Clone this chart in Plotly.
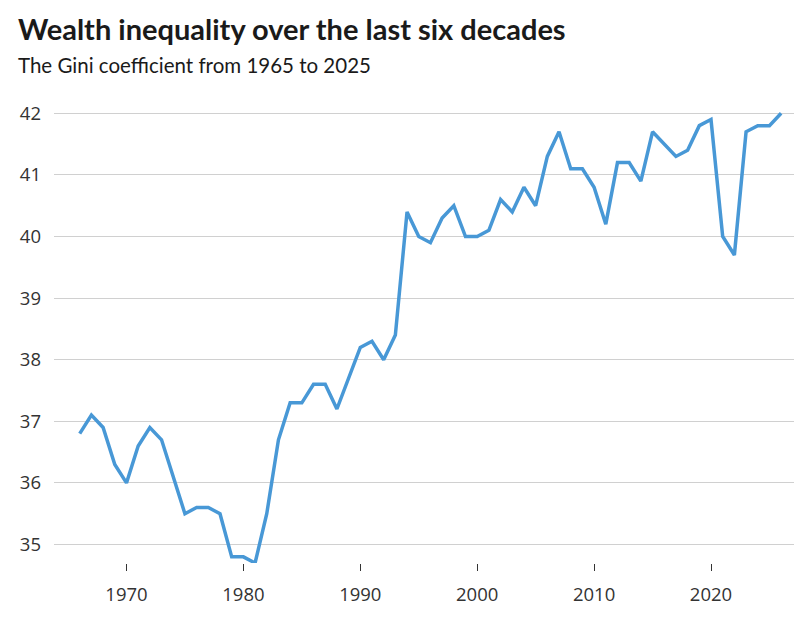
import plotly.graph_objects as go

years = list(range(1966, 2027))
gini = [
    36.8, 37.1, 36.9, 36.3, 36.0, 36.6, 36.9, 36.7, 36.1, 35.5,
    35.6, 35.6, 35.5, 34.8, 34.8, 34.7, 35.5, 36.7, 37.3, 37.3,
    37.6, 37.6, 37.2, 37.7, 38.2, 38.3, 38.0, 38.4, 40.4, 40.0,
    39.9, 40.3, 40.5, 40.0, 40.0, 40.1, 40.6, 40.4, 40.8, 40.5,
    41.3, 41.7, 41.1, 41.1, 40.8, 40.2, 41.2, 41.2, 40.9, 41.7,
    41.5, 41.3, 41.4, 41.8, 41.9, 40.0, 39.7, 41.7, 41.8, 41.8,
    42.0,
]
x_ticks = [1970, 1980, 1990, 2000, 2010, 2020]
y_ticks = [35, 36, 37, 38, 39, 40, 41, 42]

title_text = "Wealth inequality over the last six decades"
subtitle_text = "The Gini coefficient from 1965 to 2025"

TICK_FONT = "Open Sans, sans-serif"
TITLE_FONT = "Lato, sans-serif"
SUB_FONT = "Lato, sans-serif"

W, H = 799, 611
ML, MR, MT, MB = 37, 13, 93, 56
PW, PH = W - ML - MR, H - MT - MB

fig = go.Figure()
fig.add_trace(go.Scatter(
    x=years, y=gini, mode="lines",
    line=dict(color="#4898d6", width=3.5),
    hoverinfo="x+y", showlegend=False,
))

fig.update_layout(
    width=W, height=H,
    margin=dict(l=ML, r=MR, t=MT, b=MB),
    paper_bgcolor="white", plot_bgcolor="white",
    font=dict(family=TICK_FONT, color="#333333", size=18),
    xaxis=dict(
        range=[1963.8, 2027.1],
        tickvals=x_ticks, ticktext=[str(v) for v in x_ticks],
        showgrid=False, zeroline=False, showline=False,
        ticks="outside", ticklen=7, tickwidth=1, tickcolor="#333333",
        ticklabelstandoff=8,
        tickfont=dict(size=18.5, color="#333333"),
    ),
    yaxis=dict(
        range=[34.7, 42.2],
        tickvals=y_ticks, ticktext=[str(v) for v in y_ticks],
        showgrid=True, gridcolor="#d0d0d0", gridwidth=1,
        zeroline=False, showline=False, ticks="",
        ticklabelstandoff=12,
        tickfont=dict(size=18.5, color="#333333"),
    ),
    annotations=[
        dict(text="<b>" + title_text + "</b>", xref="paper", yref="paper",
             x=(-1 - ML) / PW, y=1 + (MT - 21) / PH, xanchor="left", yanchor="middle",
             showarrow=False, font=dict(size=29, color="#1a1a1a", family=TITLE_FONT)),
        dict(text=subtitle_text, xref="paper", yref="paper",
             x=(-1 - ML) / PW, y=1 + (MT - 57) / PH, xanchor="left", yanchor="middle",
             showarrow=False, font=dict(size=20.5, color="#1a1a1a", family=SUB_FONT)),
    ],
)

fig.write_html("out.html")
